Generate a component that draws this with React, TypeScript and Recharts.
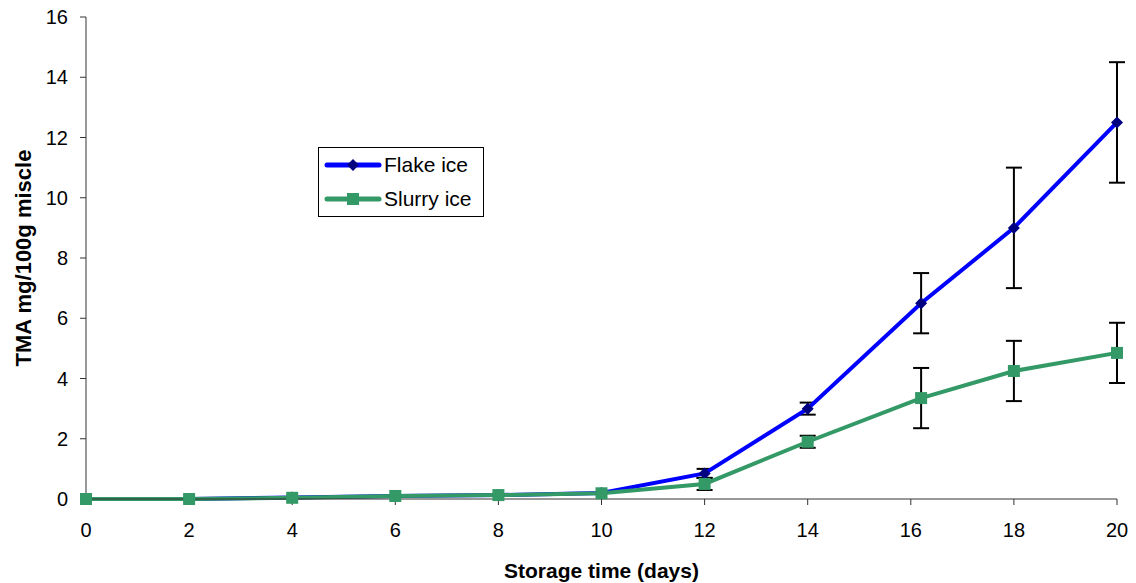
import React from "react";
import { LineChart, Line, XAxis, YAxis, ErrorBar, Legend } from "recharts";

const days = [0, 2, 4, 6, 8, 10, 12, 14, 16.2, 18, 20];
const flakeIce = [0, 0, 0.05, 0.1, 0.13, 0.2, 0.85, 3.0, 6.5, 9.0, 12.5];
const flakeErr = [0, 0, 0, 0, 0, 0, 0.15, 0.2, 1, 2, 2];
const slurryIce = [0, 0, 0.04, 0.1, 0.13, 0.19, 0.5, 1.9, 3.35, 4.25, 4.85];
const slurryErr = [0, 0, 0, 0, 0, 0, 0.2, 0.2, 1, 1, 1];
const xTicks = [0, 2, 4, 6, 8, 10, 12, 14, 16, 18, 20];
const yTicks = [0, 2, 4, 6, 8, 10, 12, 14, 16];

const rows = days.map((d, i) => ({
  day: d,
  flake: flakeIce[i],
  flakeErr: flakeErr[i],
  slurry: slurryIce[i],
  slurryErr: slurryErr[i],
}));

const FONT = "'Liberation Sans', Arial, sans-serif";
const BLUE = "#0000ff";
const NAVY = "#000080";
const GREEN = "#339966";

const diamondDot = (p: any) => {
  const { cx, cy, index } = p;
  if (cx == null || cy == null) return <g key={`d${index}`} />;
  const r = 6;
  return (
    <polygon
      key={`d${index}`}
      points={`${cx},${cy - r} ${cx + r},${cy} ${cx},${cy + r} ${cx - r},${cy}`}
      fill={NAVY}
    />
  );
};

const squareDot = (p: any) => {
  const { cx, cy, index } = p;
  if (cx == null || cy == null) return <g key={`s${index}`} />;
  return <rect key={`s${index}`} x={cx - 6} y={cy - 6} width={12} height={12} fill={GREEN} />;
};

function LegendBox() {
  const item = (label: string, color: string, square: boolean) => (
    <div style={{ display: "flex", alignItems: "center", height: 34 }}>
      <svg width={58} height={20} style={{ marginLeft: 5 }}>
        <line x1={3} y1={10} x2={55} y2={10} stroke={color} strokeWidth={5} strokeLinecap="round" />
        {square ? (
          <rect x={23} y={4} width={12} height={12} fill={GREEN} />
        ) : (
          <polygon points="29,4 35,10 29,16 23,10" fill={NAVY} />
        )}
      </svg>
      <span style={{ marginLeft: 2, fontSize: 21, color: "#000" }}>{label}</span>
    </div>
  );
  return (
    <div style={{ border: "1px solid #000", background: "#fff", width: 164, fontFamily: FONT }}>
      {item("Flake ice", BLUE, false)}
      {item("Slurry ice", GREEN, true)}
    </div>
  );
}

export default function App() {
  return (
    <div style={{ position: "absolute", left: 0, top: 0, background: "#fff" }}>
      <LineChart
        width={1136}
        height={583}
        data={rows}
        margin={{ top: 17, right: 19, bottom: 0, left: 0 }}
        style={{ fontFamily: FONT }}
      >
        <XAxis
          dataKey="day"
          type="number"
          domain={[0, 20]}
          ticks={xTicks}
          height={84}
          stroke="#333"
          tickSize={6}
          tickMargin={18}
          tick={{ fill: "#000", fontSize: 20 }}
          label={{
            value: "Storage time (days)",
            position: "insideBottom",
            offset: 5,
            style: { fontSize: 21, fontWeight: "bold", fill: "#000" },
          }}
        />
        <YAxis
          type="number"
          domain={[0, 16]}
          ticks={yTicks}
          width={86}
          stroke="#333"
          tickSize={6}
          tickMargin={12}
          tick={{ fill: "#000", fontSize: 20 }}
          label={{
            value: "TMA mg/100g miscle",
            angle: -90,
            position: "insideLeft",
            offset: 23,
            style: { fontSize: 22, fontWeight: "bold", fill: "#000", textAnchor: "middle" },
          }}
        />
        <Legend
          layout="vertical"
          align="center"
          verticalAlign="middle"
          content={() => <LegendBox />}
          wrapperStyle={{ position: "absolute", left: 318, top: 147, width: "auto", height: "auto" }}
        />
        <Line
          type="linear"
          dataKey="flake"
          stroke={BLUE}
          strokeWidth={4}
          dot={diamondDot}
          activeDot={false}
          isAnimationActive={false}
        >
          <ErrorBar dataKey="flakeErr" direction="y" width={8} stroke="#000" strokeWidth={2} />
        </Line>
        <Line
          type="linear"
          dataKey="slurry"
          stroke={GREEN}
          strokeWidth={4}
          dot={squareDot}
          activeDot={false}
          isAnimationActive={false}
        >
          <ErrorBar dataKey="slurryErr" direction="y" width={8} stroke="#000" strokeWidth={2} />
        </Line>
      </LineChart>
    </div>
  );
}
